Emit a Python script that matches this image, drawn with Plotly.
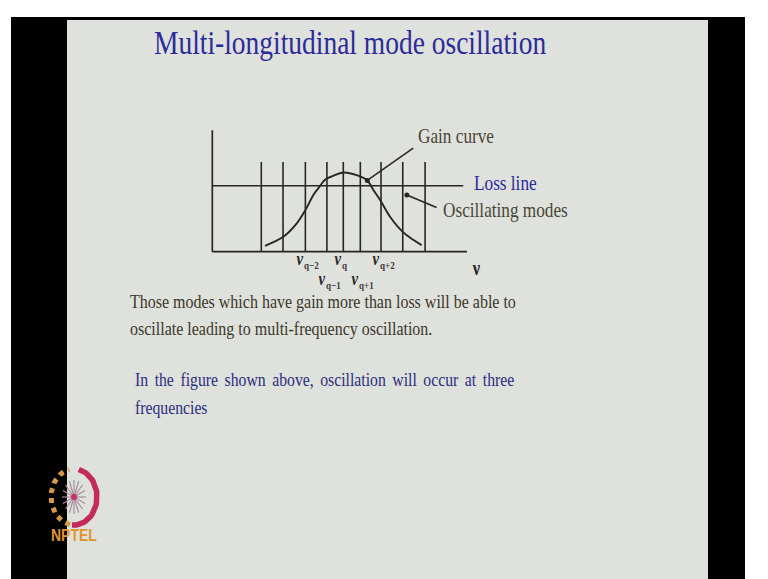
import math
import plotly.graph_objects as go

W, H = 768, 579

# ---- diagram data: frequency in units of the mode spacing (0 = nu_q), gain relative to loss ----
mode_nu = [-4.0, -2.94, -1.85, -0.80, 0.0, 0.83, 1.84, 2.90, 3.99]
mode_top = 1.36
loss_level = 1.0
loss_nu = [-6.39, 5.85]
axis_nu = [-6.39, 6.03]
axis_gain_top = 1.84

gain_nu = [-3.82, -2.91, -2.27, -1.85, -1.46, -1.22, -0.89, -0.49, 0.0,
           0.65, 1.17, 1.46, 1.84, 2.28, 2.90, 3.41, 3.82]
gain_val = [0.09, 0.23, 0.43, 0.63, 0.86, 0.96, 1.09, 1.15, 1.20,
            1.16, 1.08, 0.94, 0.76, 0.53, 0.30, 0.18, 0.10]

# labelled modes: index into mode_nu, subscript, label row (0 upper, 1 lower)
label_index = [2, 3, 4, 5, 6]
label_sub = ["q−2", "q−1", "q", "q+1", "q+2"]
label_row = [0, 1, 0, 1, 0]

# callout pointers (from point on the drawing towards the caption)
gain_ptr_nu, gain_ptr_g = [1.17, 3.41], [1.08, 1.57]
osc_ptr_nu, osc_ptr_g = [3.10, 4.55], [0.86, 0.67]

# ---- slide text ----
title = "Multi-longitudinal mode oscillation"
body_lines = ["Those modes which have gain more than loss will be able to",
              "oscillate leading to multi-frequency oscillation."]
blue_lines = ["In the figure shown above, oscillation will occur at three",
              "frequencies"]

SERIF = "Liberation Serif, Times New Roman, serif"
INK = "#262626"
BODY = "#3b3729"
LABEL = "#4a4535"
BLUE = "#2b2c9a"
NAVY = "#2b2e7c"
SLIDE = "#dfe1dc"
SQUEEZE = 0.82          # horizontal compression of the slide lettering

# pixel placement of the diagram's frame
X0, SX = 343.3, 20.5   # px of nu=0, px per mode spacing
Y0, SY = 251.7, 66.0   # px of zero gain, px per loss level


def px(x):
    return x / W


def py(y):
    return 1 - y / H


def g_of(ypx):
    return (Y0 - ypx) / SY


fig = go.Figure()

# frame: axes
fig.add_trace(go.Scatter(x=[axis_nu[0], axis_nu[0], None, axis_nu[0], axis_nu[1]],
                         y=[axis_gain_top, 0, None, 0, 0], mode="lines",
                         line=dict(color=INK, width=1.7), hoverinfo="skip"))
# longitudinal modes
mx, my = [], []
for v in mode_nu:
    mx += [v, v, None]
    my += [0, mode_top, None]
fig.add_trace(go.Scatter(x=mx, y=my, mode="lines",
                         line=dict(color=INK, width=1.6), hoverinfo="skip"))
# loss line
fig.add_trace(go.Scatter(x=loss_nu, y=[loss_level, loss_level], mode="lines",
                         line=dict(color=INK, width=1.6), hoverinfo="skip"))
# gain curve
fig.add_trace(go.Scatter(x=gain_nu, y=gain_val, mode="lines",
                         line=dict(color=INK, width=1.9, shape="spline", smoothing=1.0),
                         hoverinfo="skip"))
# callout pointers
for xs, ys in [(gain_ptr_nu, gain_ptr_g), (osc_ptr_nu, osc_ptr_g)]:
    fig.add_trace(go.Scatter(x=xs, y=ys, mode="lines",
                             line=dict(color=INK, width=1.5), hoverinfo="skip"))
    fig.add_trace(go.Scatter(x=[xs[0]], y=[ys[0]], mode="markers",
                             marker=dict(color=INK, size=5), hoverinfo="skip"))

# NPTEL emblem drawn in pixel space on overlay axes
cx, cy, rx, ry = 74.0, 497.0, 23.0, 28.0


def arc(a0, a1, n=40):
    xs, ys = [], []
    for k in range(n + 1):
        a = math.radians(a0 + (a1 - a0) * k / n)
        xs.append(cx + rx * math.cos(a))
        ys.append(cy + ry * math.sin(a))
    return xs, ys


gx, gy = arc(100, 258)
fig.add_trace(go.Scatter(x=gx, y=gy, xaxis="x2", yaxis="y2", mode="lines",
                         line=dict(color="#d49a45", width=5, dash="dot"), hoverinfo="skip"))
rxs, rys = arc(-78, 95)
fig.add_trace(go.Scatter(x=rxs, y=rys, xaxis="x2", yaxis="y2", mode="lines",
                         line=dict(color="#c42a5c", width=5.5), hoverinfo="skip"))
sx_, sy_ = [], []
for k in range(8):
    a = math.radians(k * 22.5)
    sx_ += [cx - 12 * math.cos(a), cx + 12 * math.cos(a), None]
    sy_ += [cy - 17 * math.sin(a), cy + 17 * math.sin(a), None]
fig.add_trace(go.Scatter(x=sx_, y=sy_, xaxis="x2", yaxis="y2", mode="lines",
                         line=dict(color="#a98c9c", width=1.2), hoverinfo="skip"))
fig.add_trace(go.Scatter(x=[cx], y=[cy], xaxis="x2", yaxis="y2", mode="markers",
                         marker=dict(color="#c4306a", size=6), hoverinfo="skip"))

ann = []


def text(s, x, y, size, color, anchor="left", family=SERIF):
    ann.append(dict(text=s, x=px(x), y=py(y), xref="paper", yref="paper",
                    xanchor=anchor, yanchor="middle", showarrow=False,
                    font=dict(family=family, size=size, color=color)))


text(title, 152, 42, 33.5, BLUE)
text("Gain curve", 416, 136, 21, LABEL)
text("Loss line", 472, 183, 21, BLUE)
text("Oscillating modes", 441, 210, 21, LABEL)
for i, line in enumerate(body_lines):
    text(line, 128, 301 + 27 * i, 19.5, BODY)
# the blue paragraph is justified: slightly wider word gaps on its full line
for i, line in enumerate(blue_lines):
    s = line.replace(" ", "\u2006 ") if i == 0 else line
    text(s, 133, 379 + 28 * i, 19.2, NAVY)
text("<b>NPTEL</b>", cx, 535, 17, "#e0952c", anchor="center",
     family="Liberation Sans, Arial, sans-serif")

# mode labels under the axis: nu with a small subscript
row_nu = [g_of(259), g_of(279)]
row_sub = [g_of(265), g_of(285)]
for idx, sub, row in zip(label_index, label_sub, label_row):
    ann.append(dict(text="<b><i>ν</i></b>", x=mode_nu[idx], y=row_nu[row],
                    xref="x", yref="y", xanchor="right", yanchor="middle", xshift=1,
                    showarrow=False, font=dict(family=SERIF, size=18, color=INK)))
    ann.append(dict(text=f"<b>{sub}</b>", x=mode_nu[idx], y=row_sub[row],
                    xref="x", yref="y", xanchor="left", yanchor="middle", xshift=-3,
                    showarrow=False, font=dict(family=SERIF, size=11, color="#3a3a3a")))
ann.append(dict(text="<b>ν</b>", x=axis_nu[1], y=g_of(268), xref="x", yref="y",
                xanchor="left", yanchor="middle", xshift=3, showarrow=False,
                font=dict(family=SERIF, size=20, color=INK)))

shapes = [
    dict(type="rect", xref="paper", yref="paper", x0=px(11), x1=px(745), y0=0, y1=py(17),
         fillcolor="black", line_width=0, layer="below"),
    dict(type="rect", xref="paper", yref="paper", x0=px(67), x1=px(708), y0=0, y1=py(20),
         fillcolor=SLIDE, line_width=0, layer="below"),
]

hidden = dict(visible=False, showgrid=False, zeroline=False, fixedrange=True)
fig.update_layout(
    width=W, height=H, margin=dict(l=0, r=0, t=0, b=0),
    paper_bgcolor="white", plot_bgcolor="rgba(0,0,0,0)",
    showlegend=False, annotations=ann, shapes=shapes,
    xaxis=dict(range=[-X0 / SX, (W - X0) / SX], domain=[0, 1], **hidden),
    yaxis=dict(range=[(Y0 - H) / SY, Y0 / SY], domain=[0, 1], **hidden),
    xaxis2=dict(range=[0, W], overlaying="x", domain=[0, 1], **hidden),
    yaxis2=dict(range=[H, 0], overlaying="y", domain=[0, 1], **hidden),
)

# narrow the lettering horizontally about each annotation's anchor
squeeze_js = """
var gd = document.getElementById('{plot_id}');
var S = %s;
function squeezeText() {
  var anns = (gd.layout && gd.layout.annotations) || [];
  gd.querySelectorAll('g.annotation').forEach(function (g) {
    var a = anns[+g.getAttribute('data-index')] || {};
    var t = g.querySelector('text.annotation-text');
    if (!t || t.getAttribute('data-sq')) return;
    var b = t.getBBox();
    var p = a.xanchor === 'center' ? b.x + b.width / 2 :
            (a.xanchor === 'right' ? b.x + b.width : b.x);
    var base = t.getAttribute('transform') || '';
    t.setAttribute('transform', base + ' translate(' + p + ',0) scale(' + S + ',1) translate(' + (-p) + ',0)');
    t.setAttribute('data-sq', '1');
  });
}
squeezeText();
gd.on('plotly_afterplot', squeezeText);
""" % SQUEEZE

fig.write_html("out.html", post_script=squeeze_js)
